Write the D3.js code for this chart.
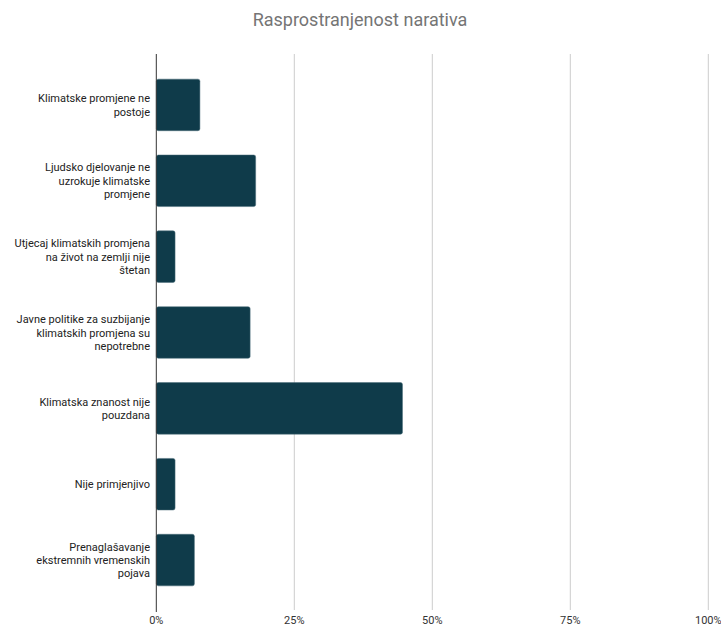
<!DOCTYPE html>
<html>
<head>
<meta charset="utf-8">
<script src="https://cdn.jsdelivr.net/npm/d3@7"></script>
<style>
  body { margin: 0; background: #fff; }
  text { font-family: Roboto, "Noto Sans", sans-serif; }
</style>
</head>
<body>
<svg id="chart" width="721" height="628"></svg>
<script>
const title = "Rasprostranjenost narativa";
const categories = [
  "Klimatske promjene ne\npostoje",
  "Ljudsko djelovanje ne\nuzrokuje klimatske\npromjene",
  "Utjecaj klimatskih promjena\nna život na zemlji nije\nštetan",
  "Javne politike za suzbijanje\nklimatskih promjena su\nnepotrebne",
  "Klimatska znanost nije\npouzdana",
  "Nije primjenjivo",
  "Prenaglašavanje\nekstremnih vremenskih\npojava"
];
const values = [0.079, 0.18, 0.034, 0.17, 0.446, 0.034, 0.069];
const ticks = [0, 0.25, 0.5, 0.75, 1];

const svg = d3.select("#chart");
const plotLeft = 156.3, plotRight = 708.3, plotTop = 54, plotBottom = 610;

const x = d3.scaleLinear().domain([0, 1]).range([plotLeft, plotRight]);
const y = d3.scaleBand().domain(categories).range([67, 598]).paddingInner(0.32).paddingOuter(0.16);

svg.append("text")
  .attr("x", 360)
  .attr("y", 26)
  .attr("text-anchor", "middle")
  .attr("fill", "#757575")
  .style("font-size", "18px")
  .text(title);

// gridlines
svg.selectAll(".grid")
  .data(ticks.slice(1))
  .join("line")
  .attr("class", "grid")
  .attr("x1", d => x(d)).attr("x2", d => x(d))
  .attr("y1", plotTop).attr("y2", plotBottom)
  .attr("stroke", "#cccccc")
  .attr("stroke-width", 1);

// tick labels
svg.selectAll(".tick-label")
  .data(ticks)
  .join("text")
  .attr("class", "tick-label")
  .attr("x", d => x(d))
  .attr("y", 624)
  .attr("text-anchor", "middle")
  .attr("fill", "#333")
  .style("font-size", "11px")
  .text(d3.format(".0%"));

// bars
svg.selectAll(".bar")
  .data(values)
  .join("rect")
  .attr("class", "bar")
  .attr("x", x(0))
  .attr("y", (d, i) => y(categories[i]))
  .attr("width", d => x(d) - x(0))
  .attr("height", y.bandwidth())
  .attr("rx", 2)
  .attr("fill", "#0f3b4a")
  .attr("stroke", "#4d6f7a")
  .attr("stroke-width", 0.5);

// axis line
svg.append("line")
  .attr("x1", x(0)).attr("x2", x(0))
  .attr("y1", plotTop).attr("y2", plotBottom + 2)
  .attr("stroke", "#333")
  .attr("stroke-width", 1);

// category labels
const lh = 13.4;
svg.selectAll(".cat")
  .data(categories)
  .join("text")
  .attr("class", "cat")
  .attr("text-anchor", "end")
  .attr("fill", "#222")
  .style("font-size", "11px")
  .each(function (d) {
    const lines = d.split("\n");
    const cy = y(d) + y.bandwidth() / 2;
    const y0 = cy - (lines.length - 1) * lh / 2 + 4;
    d3.select(this).selectAll("tspan")
      .data(lines)
      .join("tspan")
      .attr("x", 150)
      .attr("y", (l, i) => y0 + i * lh)
      .text(l => l);
  });
</script>
</body>
</html>
